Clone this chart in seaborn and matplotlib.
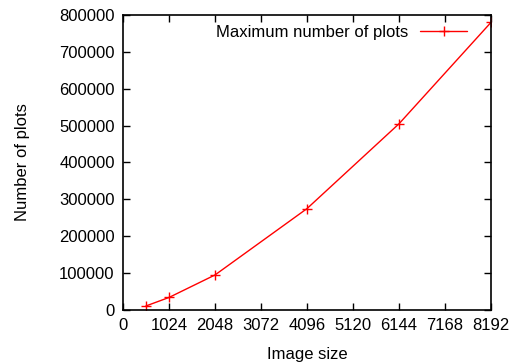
import matplotlib
matplotlib.use("Agg")
import matplotlib.pyplot as plt
import seaborn as sns
import pandas as pd

# ---------- DATA ----------
image_sizes = [512, 1024, 2048, 4096, 6144, 8192]
max_plots = [11000, 34000, 95000, 275000, 505000, 780000]
x_ticks = [0, 1024, 2048, 3072, 4096, 5120, 6144, 7168, 8192]
y_ticks = [0, 100000, 200000, 300000, 400000, 500000, 600000, 700000, 800000]

df = pd.DataFrame({"Image size": image_sizes, "Number of plots": max_plots})

sns.set_style("ticks")
plt.rcParams["font.family"] = ["Liberation Sans", "DejaVu Sans"]
plt.rcParams["font.size"] = 12
plt.rcParams["text.color"] = "black"
plt.rcParams["axes.labelcolor"] = "black"

fig = plt.figure(figsize=(5.18, 3.64), dpi=100)
ax = fig.add_axes([123 / 518, 54 / 364, 368 / 518, 295 / 364])

sns.lineplot(data=df, x="Image size", y="Number of plots", ax=ax,
             color="red", marker="+", markersize=7, markeredgewidth=1,
             markeredgecolor="red", linewidth=1,
             label="Maximum number of plots")

ax.set_xlim(0, 8192)
ax.set_ylim(0, 800000)
ax.set_xticks(x_ticks)
ax.set_yticks(y_ticks)
ax.set_xticklabels([str(t) for t in x_ticks])
ax.set_yticklabels([str(t) for t in y_ticks])
ax.tick_params(direction="in", top=True, right=True, length=5, width=1,
               labelsize=12, pad=6, colors="black", labelcolor="black")
for s in ax.spines.values():
    s.set_linewidth(1.2)
    s.set_color("black")
ax.set_xlabel("Image size", fontsize=12, labelpad=10)
ax.set_ylabel("Number of plots", fontsize=12, labelpad=21)

ax.legend(loc="upper right", bbox_to_anchor=(1 - 14 / 368, 1), frameon=False,
          markerfirst=False, fontsize=12, handlelength=2.8,
          borderaxespad=0.2, handletextpad=0.7)

fig.savefig("out.png", dpi=100)
